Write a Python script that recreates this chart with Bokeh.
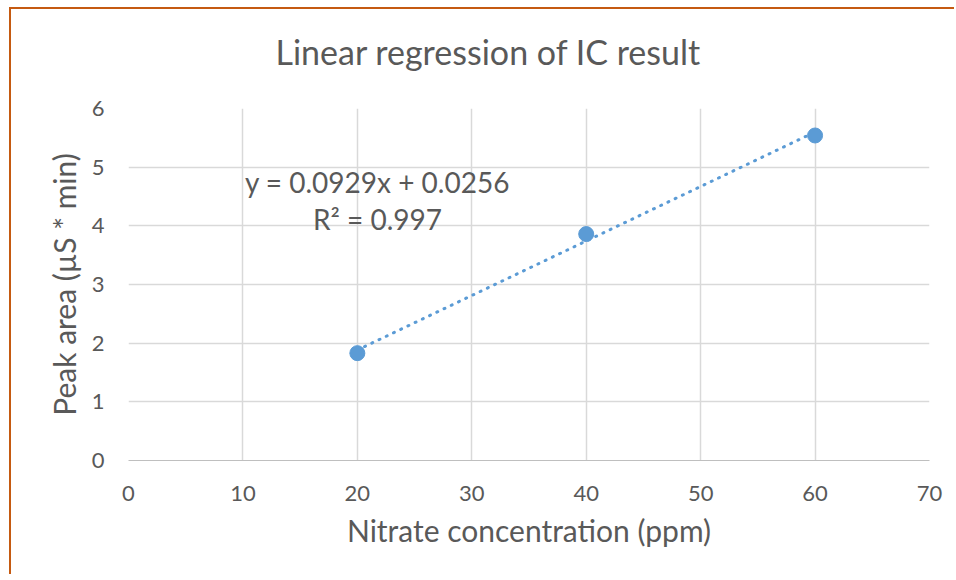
from bokeh.plotting import figure
from bokeh.models import Range1d, FixedTicker, Label, Title
from bokeh.embed import file_html
from bokeh.resources import INLINE

# Data
concentration = [20, 40, 60]
peak_area = [1.83, 3.86, 5.54]
x_ticks = [0, 10, 20, 30, 40, 50, 60, 70]
y_ticks = [0, 1, 2, 3, 4, 5, 6]
slope = 0.0929
intercept = 0.0256
r_squared = 0.997
title_text = "Linear regression of IC result"

FONT = "Lato"
TEXT = "#595959"
BLUE = "#5B9BD5"

p = figure(width=945, height=567, output_backend="svg", toolbar_location=None,
           x_range=Range1d(0, 70), y_range=Range1d(0, 6),
           min_border_left=117, min_border_right=27, min_border_top=99, min_border_bottom=116)
p.margin = (7, 0, 0, 9)
p.styles = {"border-left": "2px solid #C55A11", "border-top": "2px solid #C55A11"}

p.title.text = title_text
p.title.align = "left"
p.title.vertical_align = "top"
p.title.text_font = FONT
p.title.text_font_size = "34px"
p.title.text_font_style = "normal"
p.title.text_color = TEXT
p.title.offset = 147
p.title.standoff = 32

# empty spacer between the title and the plot area
spacer = Title(text=" ", text_font_size="16px", standoff=0, text_color="white")
p.add_layout(spacer, "above")

p.outline_line_color = None
p.background_fill_color = "white"
p.border_fill_color = "white"

for ax in (p.xaxis, p.yaxis):
    ax.major_tick_line_color = None
    ax.minor_tick_line_color = None
    ax.major_label_text_font = FONT
    ax.major_label_text_font_size = "22px"
    ax.major_label_text_color = TEXT
    ax.axis_label_text_font = FONT
    ax.axis_label_text_font_size = "30px"
    ax.axis_label_text_font_style = "normal"
    ax.axis_label_text_color = TEXT

p.xaxis.ticker = FixedTicker(ticks=x_ticks)
p.yaxis.ticker = FixedTicker(ticks=y_ticks)
p.xaxis.axis_line_color = "#BFBFBF"
p.yaxis.axis_line_color = None
p.xaxis.major_label_standoff = 19
p.yaxis.major_label_standoff = 18
p.xaxis.axis_label_standoff = 8
p.yaxis.axis_label_standoff = 7
p.xaxis.axis_label = "Nitrate concentration (ppm)"
p.yaxis.axis_label = "Peak area (µS * min)"

p.xgrid.ticker = FixedTicker(ticks=x_ticks)
p.ygrid.ticker = FixedTicker(ticks=y_ticks)
p.grid.grid_line_color = "#D9D9D9"
p.grid.grid_line_width = 1.5

trend_x = [concentration[0], concentration[-1]]
trend_y = [slope * x + intercept for x in trend_x]
p.line(trend_x, trend_y, line_color=BLUE, line_width=3, line_dash="1 7", line_cap="round")
p.scatter(concentration, peak_area, size=15, fill_color=BLUE, line_color=BLUE)

eq1 = Label(x=21.76, y=4.74, text=f"y = {slope}x + {intercept}", text_font=FONT,
            text_font_size="28px", text_color=TEXT, text_align="center", text_baseline="middle")
eq2 = Label(x=21.76, y=4.12, text=f"R² = {r_squared}", text_font=FONT,
            text_font_size="28px", text_color=TEXT, text_align="center", text_baseline="middle")
p.add_layout(eq1)
p.add_layout(eq2)

open("out.html", "w").write(file_html(p, INLINE))
